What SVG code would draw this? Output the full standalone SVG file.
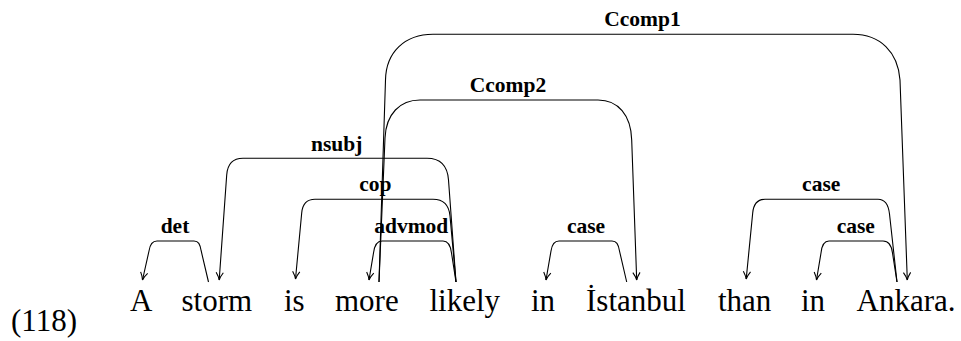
<svg xmlns="http://www.w3.org/2000/svg" width="961" height="341" viewBox="0 0 961 341">
<style>
.w{font-family:"Liberation Serif","Times New Roman",serif;font-size:31px;fill:#000}
.l{font-family:"Liberation Serif","Times New Roman",serif;font-size:21.5px;font-weight:bold;fill:#000;text-anchor:middle}
.e{fill:none;stroke:#000;stroke-width:1.1}
</style>
<defs>
<marker id="arr" markerUnits="userSpaceOnUse" viewBox="-10 -6 12 12" refX="0" refY="0" markerWidth="12" markerHeight="12" orient="auto">
<path d="M-7.5,-3.6 Q-3,-0.6 0,0 Q-3,0.6 -7.5,3.6" fill="none" stroke="#000" stroke-width="1.1"/>
</marker>
</defs>
<rect width="961" height="341" fill="#fff"/>
<text class="w" x="11" y="331">(118)</text>
<g id="w1"><text class="w" x="130" y="311">A</text></g>
<g id="w2"><text class="w" x="181.5" y="311">storm</text></g>
<g id="w3"><text class="w" x="284" y="311">is</text></g>
<g id="w4"><text class="w" x="335" y="311">more</text></g>
<g id="w5"><text class="w" x="429.5" y="311">likely</text></g>
<g id="w6"><text class="w" x="531" y="311">in</text></g>
<g id="w7"><text class="w" x="586" y="311">İstanbul</text></g>
<g id="w8"><text class="w" x="718" y="311">than</text></g>
<g id="w9"><text class="w" x="801" y="311">in</text></g>
<g id="w10"><text class="w" x="856.5" y="311">Ankara.</text></g>
<g id="edges">
<g id="e-det"><path class="e" marker-end="url(#arr)" d="M208.5,282 L201.2,251 C200,244 198.5,241 194,241 L157,241 C152.5,241 150,244 149,251 L142.5,280"/><text class="l" x="175" y="233">det</text></g>
<g id="e-nsubj"><path class="e" marker-end="url(#arr)" d="M456,282 L448.5,180 C447.5,166 440,158.3 427,158.3 L243,158.3 C233,158.3 227.5,164 226.7,175 L219.2,280"/><text class="l" x="336.7" y="150.5">nsubj</text></g>
<g id="e-cop"><path class="e" marker-end="url(#arr)" d="M456,282 L450,216 C449,205 443,199.3 433,199.3 L315,199.3 C307,199.3 302.5,204 301.7,213 L295.5,279"/><text class="l" x="375.3" y="191.3">cop</text></g>
<g id="e-advmod"><path class="e" marker-end="url(#arr)" d="M456,282 L451.5,253 C450.5,245 447.5,241 443,241 L382,241 C377,241 374.5,245 373.5,253 L369,280"/><text class="l" x="411.3" y="233">advmod</text></g>
<g id="e-ccomp1"><path class="e" marker-end="url(#arr)" d="M379,282 L385.5,80 C386,52 405,34.3 433,34.3 L853,34.3 C880,34.3 898,52 900,80 L907.3,280"/><text class="l" x="642.5" y="26.3">Ccomp1</text></g>
<g id="e-ccomp2"><path class="e" marker-end="url(#arr)" d="M379,282 L385,138 C386,114 400,100 420,100 L598,100 C618,100 631,115 631.7,140 L636.7,280"/><text class="l" x="508" y="92">Ccomp2</text></g>
<g id="e-case1"><path class="e" marker-end="url(#arr)" d="M626.7,282 L619.5,251 C618.3,244 616.5,241 612,241 L559,241 C554.5,241 552,244 551,251 L546,280"/><text class="l" x="586" y="233">case</text></g>
<g id="e-case2"><path class="e" marker-end="url(#arr)" d="M897,282 L889.5,214 C888.5,205 885,199.3 878,199.3 L765,199.3 C758,199.3 753.5,204 752.7,213 L746.2,279"/><text class="l" x="821.2" y="191.3">case</text></g>
<g id="e-case3"><path class="e" marker-end="url(#arr)" d="M897,282 L892.5,253 C891.5,245 888,241 883,241 L829,241 C824.5,241 821.8,245 821,253 L816.5,280"/><text class="l" x="855.8" y="233">case</text></g>
</g>
</svg>
